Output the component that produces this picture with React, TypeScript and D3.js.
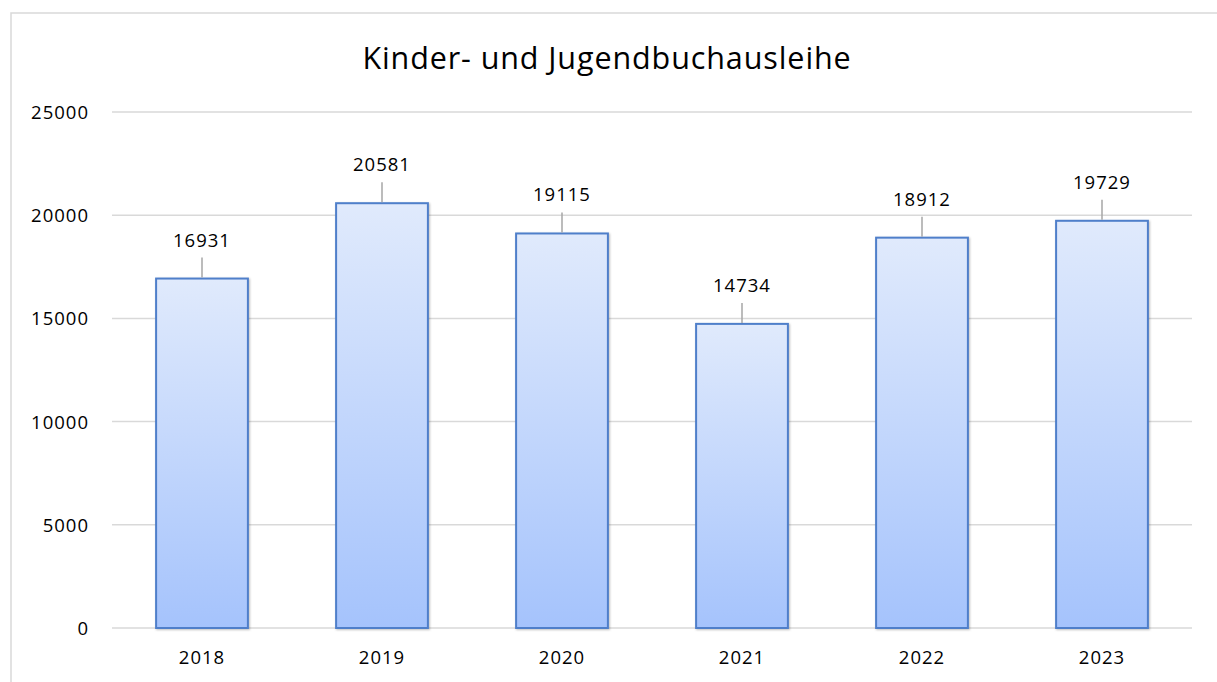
import React from "react";
import * as d3 from "d3";

const years = ["2018", "2019", "2020", "2021", "2022", "2023"];
const values = [16931, 20581, 19115, 14734, 18912, 19729];
const yTicks = [0, 5000, 10000, 15000, 20000, 25000];
const title = "Kinder- und Jugendbuchausleihe";

export default function App() {
  const W = 1217, H = 682;
  const left = 112, right = 1192, top = 112, bottom = 628;
  const x = d3.scaleBand<string>().domain(years).range([left, right]).paddingInner(0.49).paddingOuter(0.245);
  const y = d3.scaleLinear().domain([0, 25000]).range([bottom, top]);
  const font = "'Open Sans', sans-serif";
  return (
    <svg width={W} height={H} style={{ position: "absolute", left: 0, top: 0 }} fontFamily={font}>
      <defs>
        <linearGradient id="barGrad" x1="0" y1="0" x2="0" y2="1">
          <stop offset="0%" stopColor="#e0eafc" />
          <stop offset="100%" stopColor="#a5c3fc" />
        </linearGradient>
        <filter id="sh" x="-10%" y="-10%" width="130%" height="130%">
          <feDropShadow dx="1" dy="1" stdDeviation="1.2" floodColor="#000" floodOpacity="0.25" />
        </filter>
      </defs>
      <rect x={0} y={0} width={W} height={H} fill="#fff" />
      <rect x={11} y={13} width={W} height={H} fill="#fff" stroke="#d9d9d9" strokeWidth={1.5} />
      <text x={607} y={69} textAnchor="middle" fontSize={30.5} letterSpacing={0.9} fill="#000">{title}</text>
      {yTicks.map((t) => (
        <g key={t}>
          <line x1={left} x2={right} y1={y(t)} y2={y(t)} stroke="#d9d9d9" strokeWidth={1.5} />
          <text x={89} y={y(t) + 7} textAnchor="end" fontSize={18.5} letterSpacing={1} fill="#000">{t}</text>
        </g>
      ))}
      {years.map((yr, i) => {
        const bx = x(yr)!;
        const bw = x.bandwidth();
        const by = y(values[i]);
        const cx = bx + bw / 2;
        return (
          <g key={yr}>
            <rect x={bx} y={by} width={bw} height={bottom - by} fill="url(#barGrad)" stroke="#4f7fca" strokeWidth={2} filter="url(#sh)" />
            <line x1={cx} x2={cx} y1={by - 1} y2={by - 21} stroke="#a6a6a6" strokeWidth={1.5} />
            <text x={cx} y={by - 32} textAnchor="middle" fontSize={18.5} letterSpacing={1} fill="#000">{values[i]}</text>
            <text x={cx} y={664} textAnchor="middle" fontSize={18.5} letterSpacing={1} fill="#000">{yr}</text>
          </g>
        );
      })}
    </svg>
  );
}
